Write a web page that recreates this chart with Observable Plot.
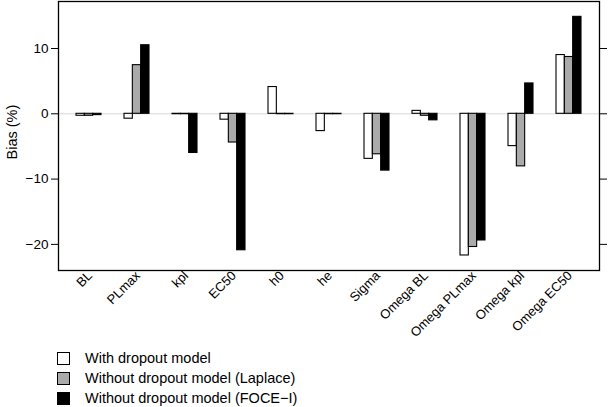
<!DOCTYPE html>
<html><head><meta charset="utf-8">
<script src="https://cdn.jsdelivr.net/npm/d3@7"></script>
<script src="https://cdn.jsdelivr.net/npm/@observablehq/plot@0.6"></script>
<style>
body{margin:0;background:#fff;font-family:"Liberation Sans",Arial,Helvetica,sans-serif;}
#chart svg{display:block;}
#legend{margin-left:57px;margin-top:3px;font-size:14.5px;color:#000;}
.item{display:flex;align-items:center;height:20px;}
.sw{width:11px;height:11px;border:1px solid #000;margin-right:15px;}
</style></head>
<body><div id="chart"></div><div id="legend"></div>
<script>
const categories = ["BL","PLmax","kpl","EC50","h0","he","Sigma","Omega BL","Omega PLmax","Omega kpl","Omega EC50"];
const series = ["With dropout model","Without dropout model (Laplace)","Without dropout model (FOCE\u2212I)"];
const colors = ["#ffffff","#aaaaaa","#000000"];
const withDropout = [-0.3,-0.75,-0.06,-0.9,4.1,-2.65,-6.9,0.45,-21.7,-4.95,9.0];
const laplace     = [-0.3,7.45,-0.06,-4.4,-0.06,-0.06,-6.2,-0.3,-20.4,-8.05,8.7];
const foce        = [-0.2,10.5,-6.0,-20.9,-0.06,-0.06,-8.7,-1.0,-19.4,4.65,14.85];
const yTicks = [-20,-10,0,10];
const yLabel = "Bias (%)";

const valuesBySeries = [withDropout, laplace, foce];
const bw = 25, third = bw/3;
const marks = [
  Plot.ruleY([0], {stroke:"#d8d8d8", strokeWidth:1}),
];
valuesBySeries.forEach((vals, j) => {
  const data = categories.map((c,i)=>({category:c, value:vals[i]}));
  marks.push(Plot.barY(data, {x:"category", y:"value", fill:colors[j], stroke:"#000", strokeWidth:1.1,
    insetLeft: j*third, insetRight:(2-j)*third}));
});
marks.push(
  Plot.frame({stroke:"#000", strokeWidth:1.3}),
  Plot.axisY({ticks:yTicks, tickSize:7, tickPadding:3, fontSize:13.5, tickFormat:d=>d.toString().replace("-","\u2212"), label:null}),
  Plot.axisY({anchor:"right", ticks:yTicks, tickSize:7, tickFormat:()=>"", label:null}),
  Plot.axisX({tickRotate:-45, tickSize:0, fontSize:13, label:null, tickPadding:2, dx:1, dy:1}),
  Plot.text([yLabel], {x:()=>categories[0], y:()=>-2.8, textAnchor:"middle", rotate:-90, dx:-77, fontSize:14.5, fill:"#000"})
);
const chart = Plot.plot({
  width:608, height:345, marginTop:1, marginBottom:75, marginLeft:58, marginRight:9,
  style:{fontFamily:"Liberation Sans, Arial, Helvetica, sans-serif", color:"#000", fontSize:"13px"},
  x:{domain:categories, paddingInner:0.485, paddingOuter:0.32, axis:null},
  y:{domain:[-24,17.2], axis:null},
  marks
});
document.getElementById("chart").appendChild(chart);
const lg = document.getElementById("legend");
series.forEach((s,j)=>{
  const it = document.createElement("div"); it.className="item";
  const sw = document.createElement("div"); sw.className="sw"; sw.style.background=colors[j];
  const t = document.createElement("span"); t.textContent=s;
  it.appendChild(sw); it.appendChild(t); lg.appendChild(it);
});
</script></body></html>
